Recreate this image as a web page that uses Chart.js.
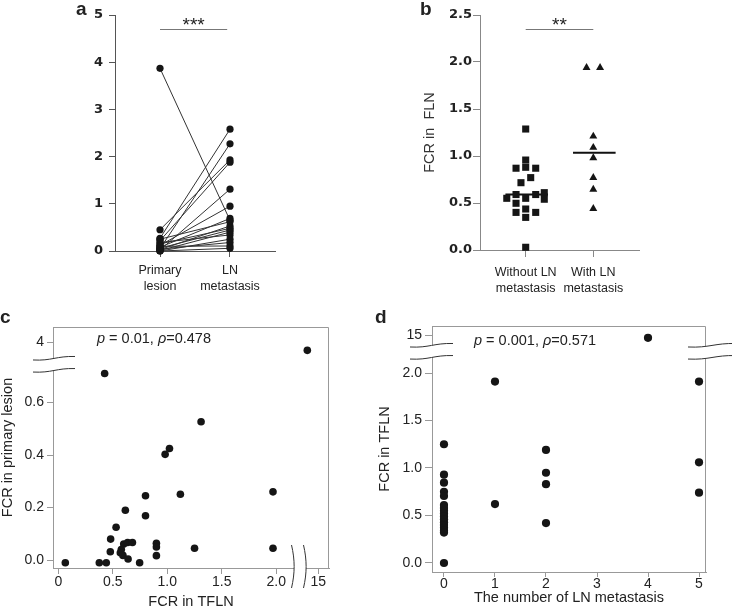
<!DOCTYPE html>
<html>
<head>
<meta charset="utf-8">
<script src="https://cdn.jsdelivr.net/npm/chart.js@4.4.1/dist/chart.umd.min.js"></script>
<style>
  body { margin: 0; background: #fff; }
  #wrap { position: relative; width: 732px; height: 611px; font-family: 'Liberation Sans', Arial, sans-serif; color: #222; }
  canvas { position: absolute; }
  .tag { position: absolute; font-weight: bold; font-size: 19px; line-height: 18px; }
  .stat { position: absolute; font-size: 14.5px; line-height: 16px; white-space: nowrap; }
</style>
</head>
<body>
<div id="wrap">
  <canvas id="chartA" width="320" height="305" style="left:0;top:0"></canvas>
  <canvas id="chartB" width="320" height="305" style="left:370px;top:0"></canvas>
  <canvas id="chartC" width="370" height="306" style="left:0;top:305px"></canvas>
  <canvas id="chartD" width="362" height="306" style="left:370px;top:305px"></canvas>
  <div class="tag" style="left:76px;top:0">a</div>
  <div class="tag" style="left:420px;top:0">b</div>
  <div class="tag" style="left:0;top:308px">c</div>
  <div class="tag" style="left:375px;top:308px">d</div>
  <div class="stat" style="left:97px;top:330px"><i>p</i> = 0.01, <i>ρ</i>=0.478</div>
  <div class="stat" style="left:474px;top:332px"><i>p</i> = 0.001, <i>ρ</i>=0.571</div>
</div>
<script>
// ---- data ----

// a: paired FCR, primary lesion -> LN metastasis
const pairedPrimary = [0.27, 0.05, 0.45, 0.22, 0.02, 0.12, 0.08, 3.87, 0.25, 0.03, 0.15, 0.06, 0.01, 0.18, 0.0, 0.04, 0.10, 0.0];
const pairedLN      = [2.58, 2.27, 1.93, 1.88, 1.31, 0.95, 0.69, 0.65, 0.62, 0.53, 0.48, 0.445, 0.40, 0.34, 0.25, 0.18, 0.106, 0.057];
const pairedLabels  = [['Primary', 'lesion'], ['LN', 'metastasis']];
const pairedTicks   = [0, 1, 2, 3, 4, 5];

// b: FCR in FLN by group (jitter = horizontal offset of each marker)
const withoutLN       = [1.287, 0.957, 0.87, 0.88, 0.87, 0.716, 0.77, 0.55, 0.59, 0.55, 0.59, 0.61, 0.54, 0.497, 0.436, 0.40, 0.40, 0.347, 0.029];
const withoutLNJitter = [0, 0, -0.143, 0, 0.148, -0.07, 0.074, -0.28, -0.143, 0, 0.148, 0.275, 0.275, -0.143, 0, -0.143, 0.148, 0, 0];
const withLN          = [1.94, 1.94, 1.21, 1.09, 0.98, 0.77, 0.645, 0.44];
const withLNJitter    = [-0.1, 0.1, 0, 0, 0, 0, 0, 0];
const groupLabels     = [['Without LN', 'metastasis'], ['With LN', 'metastasis']];
const fcrTicks        = [0, 0.5, 1, 1.5, 2, 2.5];
const fcrTickLabels   = ['0.0', '0.5', '1.0', '1.5', '2.0', '2.5'];

// c: FCR in TFLN (x) vs FCR in primary lesion (y)
const tflnX    = [14.0, 0.425, 1.31, 1.02, 0.98, 1.12, 1.97, 0.80, 0.615, 0.80, 0.53, 0.48, 0.477, 0.60, 0.636, 0.68, 0.578, 0.569, 0.593, 0.64, 0.90, 0.90, 0.90, 1.25, 1.97, 0.064, 0.376, 0.44, 0.746];
const primaryY = [3.8, 0.711, 0.527, 0.425, 0.403, 0.251, 0.26, 0.245, 0.19, 0.169, 0.125, 0.08, 0.032, 0.061, 0.067, 0.067, 0.04, 0.028, 0.018, 0.004, 0.064, 0.05, 0.017, 0.045, 0.045, -0.01, -0.01, -0.01, -0.01];
const cTicksX  = [0, 0.5, 1, 1.5, 2, 15];
const cLabelsX = ['0', '0.5', '1.0', '1.5', '2.0', '15'];
const cTicksY  = [0, 0.2, 0.4, 0.6, 4];
const cLabelsY = ['0.0', '0.2', '0.4', '0.6', '4'];

// d: number of LN metastasis (x) vs FCR in TFLN (y)
const lnCount = [0, 0, 0, 0, 0, 0, 0, 0, 0, 0, 0, 0, 0, 0, 0, 0, 0, 1, 1, 2, 2, 2, 2, 4, 5, 5, 5];
const tflnFCR = [1.25, 0.93, 0.845, 0.75, 0.705, 0.61, 0.58, 0.55, 0.52, 0.49, 0.46, 0.43, 0.40, 0.37, 0.34, 0.32, 0.0, 1.91, 0.62, 1.19, 0.95, 0.83, 0.42, 14.5, 1.91, 1.06, 0.74];
const dTicksX  = [0, 1, 2, 3, 4, 5];
const dTicksY  = [0, 0.5, 1, 1.5, 2, 15];
const dLabelsY = ['0.0', '0.5', '1.0', '1.5', '2.0', '15'];

// ---- broken axes: values above the cut are squeezed into a short band ----
function makeBreak(cut, topValue, topPos, k) {
    return v => (v <= cut ? v : topPos - (topValue - v) * k);
}
const cMapX = makeBreak(2.2, 15, 2.385, 0.1);
const cMapY = makeBreak(1, 4, 0.829, 0.15);
const dMapY = makeBreak(2.5, 15, 2.4, 0.06);

function median(arr) {
    const s = [...arr].sort((a, b) => a - b);
    const m = Math.floor(s.length / 2);
    return s.length % 2 ? s[m] : (s[m - 1] + s[m]) / 2;
}

Chart.defaults.font.family = "'Liberation Sans', Arial, sans-serif";
Chart.defaults.color = '#222';
Chart.defaults.animation = false;

// significance bar with stars above it
const sigBar = {
    id: 'sigBar',
    afterDraw(chart, args, o) {
        if (!o || !o.text) return;
        const { ctx, scales: { x, y } } = chart;
        const yy = Math.round(y.getPixelForValue(o.y)) + 0.5;
        const x1 = x.getPixelForValue(o.from), x2 = x.getPixelForValue(o.to);
        ctx.save();
        ctx.strokeStyle = '#777';
        ctx.lineWidth = 1;
        ctx.beginPath(); ctx.moveTo(x1, yy); ctx.lineTo(x2, yy); ctx.stroke();
        ctx.fillStyle = '#222';
        ctx.font = "19px 'Liberation Sans', Arial";
        ctx.textAlign = 'center';
        ctx.textBaseline = 'alphabetic';
        ctx.fillText(o.text, (x1 + x2) / 2, yy + 1.5);
        ctx.restore();
    }
};

// frame box + the wavy break marks
function hCurve(xa, xb, yc) {
    const w = xb - xa;
    return [[xa, yc + 2], [xa + w * 0.45, yc + 3], [xa + w * 0.55, yc - 2], [xb, yc - 1.5]];
}
function vCurve(xc, ya, yb) {
    const h = yb - ya;
    return [[xc, ya], [xc + 3.5, ya + h * 0.35], [xc + 3.5, ya + h * 0.65], [xc, yb]];
}
function drawBreak(ctx, c1, c2) {
    ctx.save();
    ctx.beginPath();
    ctx.moveTo(...c1[0]); ctx.bezierCurveTo(...c1[1], ...c1[2], ...c1[3]);
    ctx.lineTo(...c2[3]); ctx.bezierCurveTo(...c2[2], ...c2[1], ...c2[0]);
    ctx.closePath();
    ctx.fillStyle = '#fff';
    ctx.fill();
    ctx.strokeStyle = '#333';
    ctx.lineWidth = 1;
    [c1, c2].forEach(c => {
        ctx.beginPath();
        ctx.moveTo(...c[0]); ctx.bezierCurveTo(...c[1], ...c[2], ...c[3]);
        ctx.stroke();
    });
    ctx.restore();
}
const axisBreaks = {
    id: 'axisBreaks',
    afterDraw(chart, args, o) {
        if (!o || !o.frame) return;
        const { ctx, chartArea: a, scales: { x, y } } = chart;
        ctx.save();
        ctx.strokeStyle = o.frame;
        ctx.lineWidth = 1;
        ctx.beginPath();
        ctx.moveTo(Math.round(a.left) + 0.5, Math.round(a.top) + 0.5);
        ctx.lineTo(Math.round(a.right) - 0.5, Math.round(a.top) + 0.5);
        ctx.lineTo(Math.round(a.right) - 0.5, Math.round(a.bottom));
        ctx.stroke();
        ctx.restore();
        (o.h || []).forEach(b => {
            const base = b.side === 'right' ? a.right : a.left;
            const y1 = y.getPixelForValue(b.v1), y2 = y.getPixelForValue(b.v2);
            drawBreak(ctx, hCurve(base + b.from, base + b.to, y1), hCurve(base + b.from, base + b.to, y2));
        });
        (o.v || []).forEach(b => {
            const x1 = x.getPixelForValue(b.v1), x2 = x.getPixelForValue(b.v2);
            drawBreak(ctx, vCurve(x1, a.bottom + b.from, a.bottom + b.to), vCurve(x2, a.bottom + b.from, a.bottom + b.to));
        });
    }
};
Chart.register(sigBar, axisBreaks);

// one linear axis with fixed ticks and a fixed box size
function makeScale(c) {
    return {
        type: 'linear',
        min: c.min,
        max: c.max,
        afterBuildTicks: s => { s.ticks = c.ticks.map(v => ({ value: c.map ? c.map(v) : v })); },
        afterFit: s => { if (s.isHorizontal()) s.height = c.size; else s.width = c.size; },
        ticks: {
            callback: (v, i) => c.labels[i],
            font: c.font,
            color: '#222',
            padding: c.pad,
            autoSkip: false,
            maxRotation: 0,
            minRotation: 0
        },
        grid: { display: true, drawOnChartArea: false, drawTicks: true, tickLength: c.tickLen, color: c.color },
        border: { display: true, color: c.color, width: 1 },
        title: c.title || { display: false }
    };
}

function baseOptions(padding, scales, plugins) {
    return {
        responsive: false,
        animation: false,
        layout: { padding, autoPadding: false },
        scales,
        plugins: Object.assign({ legend: { display: false }, tooltip: { enabled: false } }, plugins)
    };
}

function dots(points, style, r) {
    return {
        data: points,
        pointStyle: style,
        pointRadius: r,
        pointBackgroundColor: '#151515',
        pointBorderColor: '#151515',
        pointBorderWidth: 0,
        clip: false,
        order: 0
    };
}

// bold numbers on a and b are wide, DejaVu is closer to that than Liberation
const boldTick = { family: "'DejaVu Sans', 'Liberation Sans', sans-serif", size: 13, weight: 'bold' };
const catFont = { size: 12.5, lineHeight: 1.25 };
const bigTick = { size: 14, lineHeight: 1.1 };
const bigTitle = { size: 14.5, lineHeight: 1.1 };

// ---- a ----
function renderA() {
    const lines = pairedPrimary.map((p, i) => ({
        data: [{ x: 1, y: p }, { x: 2, y: pairedLN[i] }],
        showLine: true, borderColor: '#333', borderWidth: 1, pointRadius: 0, clip: false, order: 2
    }));
    new Chart(document.getElementById('chartA'), {
        type: 'scatter',
        data: {
            datasets: [
                dots(pairedPrimary.map(v => ({ x: 1, y: v })), 'circle', 3.6),
                dots(pairedLN.map(v => ({ x: 2, y: v })), 'circle', 3.6),
                ...lines
            ]
        },
        options: baseOptions({ top: 15, right: 45, left: 0, bottom: 0 }, {
            x: makeScale({ min: 0.357, max: 2.643, ticks: [1, 2], labels: pairedLabels, size: 54, font: catFont, pad: 6, tickLen: 6, color: '#555' }),
            y: makeScale({ min: 0, max: 5, ticks: pairedTicks, labels: pairedTicks.map(String), size: 115, font: boldTick, pad: 6, tickLen: 6, color: '#555' })
        }, { sigBar: { from: 1, to: 1.96, y: 4.7, text: '***' } })
    });
}

// ---- b ----
function renderB() {
    const m1 = median(withoutLN), m2 = median(withLN);
    const medLine = (cx, m) => ({
        data: [{ x: cx - 0.3, y: m }, { x: cx + 0.33, y: m }],
        showLine: true, borderColor: '#111', borderWidth: 2, pointRadius: 0, clip: false, order: 1
    });
    new Chart(document.getElementById('chartB'), {
        type: 'scatter',
        data: {
            datasets: [
                dots(withoutLN.map((v, i) => ({ x: 1 + withoutLNJitter[i], y: v })), 'rect', 5),
                dots(withLN.map((v, i) => ({ x: 2 + withLNJitter[i], y: v })), 'triangle', 4.6),
                medLine(1, m1),
                medLine(2, m2)
            ]
        },
        options: baseOptions({ top: 15, right: 51, left: 0, bottom: 0 }, {
            x: makeScale({ min: 0.324, max: 2.676, ticks: [1, 2], labels: groupLabels, size: 55, font: catFont, pad: 8, tickLen: 7, color: '#888' }),
            y: makeScale({
                min: 0, max: 2.5, ticks: fcrTicks, labels: fcrTickLabels, size: 110, font: boldTick, pad: 1, tickLen: 7, color: '#888',
                title: { display: true, text: 'FCR in  FLN', font: bigTitle, color: '#333', padding: { top: 52, bottom: 0 } }
            })
        }, { sigBar: { from: 1, to: 2, y: 2.35, text: '**' } })
    });
}

// ---- c ----
function renderC() {
    new Chart(document.getElementById('chartC'), {
        type: 'scatter',
        data: { datasets: [dots(tflnX.map((v, i) => ({ x: cMapX(v), y: cMapY(primaryY[i]) })), 'circle', 3.8)] },
        options: baseOptions({ top: 22, right: 41, left: 0, bottom: 0 }, {
            x: makeScale({
                min: -0.049, max: 2.484, ticks: cTicksX, labels: cLabelsX, map: cMapX, size: 43, font: bigTick, pad: 0, tickLen: 6, color: '#999',
                title: { display: true, text: 'FCR in TFLN', font: bigTitle, color: '#222', padding: { top: 0, bottom: 1 } }
            }),
            y: makeScale({
                min: -0.03, max: 0.888, ticks: cTicksY, labels: cLabelsY, map: cMapY, size: 53, font: bigTick, pad: 3, tickLen: 6, color: '#999',
                title: { display: true, text: 'FCR in primary lesion', font: bigTitle, color: '#222', padding: { top: 0, bottom: 0 } }
            })
        }, {
            axisBreaks: {
                frame: '#999',
                h: [{ v1: 0.77, v2: 0.724, from: -20, to: 22 }],
                v: [{ v1: 2.14, v2: 2.25, from: -23, to: 20 }]
            }
        })
    });
}

// ---- d ----
function renderD() {
    new Chart(document.getElementById('chartD'), {
        type: 'scatter',
        data: { datasets: [dots(lnCount.map((v, i) => ({ x: v, y: dMapY(tflnFCR[i]) })), 'circle', 4.1)] },
        options: baseOptions({ top: 21, right: 26, left: 0, bottom: 0 }, {
            x: makeScale({
                min: -0.235, max: 5.137, ticks: dTicksX, labels: dTicksX.map(String), size: 39, font: { size: 14, lineHeight: 1 }, pad: 0, tickLen: 5, color: '#999',
                title: { display: true, text: 'The number of LN metastasis', font: bigTitle, color: '#222', padding: { top: 0, bottom: 5 } }
            }),
            y: makeScale({
                min: -0.095, max: 2.495, ticks: dTicksY, labels: dLabelsY, map: dMapY, size: 62, font: bigTick, pad: 3, tickLen: 7, color: '#999',
                title: { display: true, text: 'FCR in TFLN', font: bigTitle, color: '#222', padding: { top: 7, bottom: 0 } }
            })
        }, {
            axisBreaks: {
                frame: '#999',
                h: [
                    { v1: 2.295, v2: 2.168, from: -22, to: 21 },
                    { v1: 2.295, v2: 2.168, side: 'right', from: -18, to: 30 }
                ]
            }
        })
    });
}

renderA();
renderB();
renderC();
renderD();
</script>
</body>
</html>
